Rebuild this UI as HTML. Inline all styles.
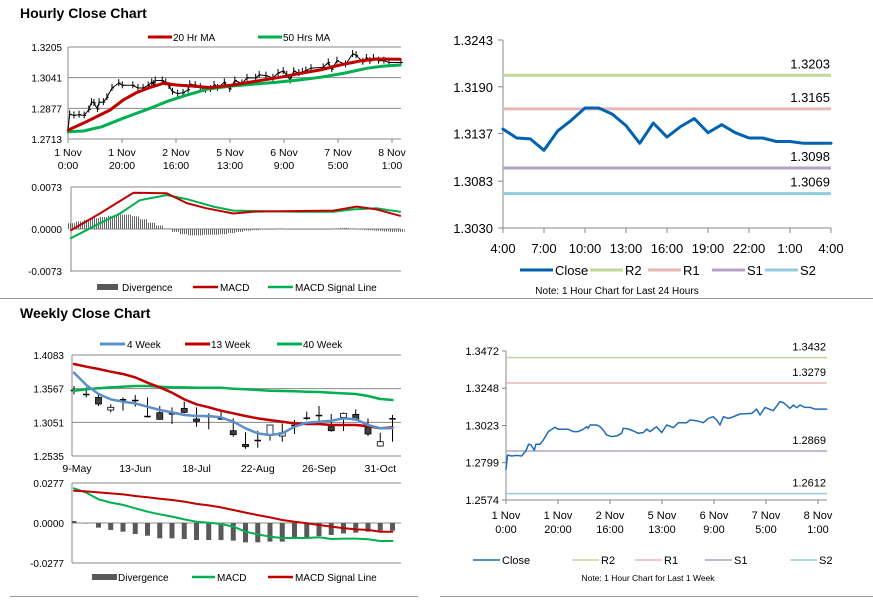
<!DOCTYPE html>
<html><head><meta charset="utf-8">
<style>
html,body{margin:0;padding:0;background:#fff;}
svg{display:block;font-family:"Liberation Sans",Arial,sans-serif;}
</style></head>
<body>
<svg id="root" width="873" height="601" viewBox="0 0 873 601" xmlns="http://www.w3.org/2000/svg">
<rect x="0" y="0" width="873" height="601" fill="#fff"/>
<text x="20" y="18" font-size="14" font-weight="bold" fill="#000">Hourly Close Chart</text>
<text x="20" y="318" font-size="14" font-weight="bold" fill="#000">Weekly Close Chart</text>
<line x1="0" y1="298.5" x2="873" y2="298.5" stroke="#999" stroke-width="1"/>
<line x1="10" y1="596.5" x2="418" y2="596.5" stroke="#999" stroke-width="1"/>
<line x1="440" y1="596.5" x2="873" y2="596.5" stroke="#999" stroke-width="1"/>
</svg>
<script>
// ---------- DATA ----------
// Hourly closes over last week (hours since 1 Nov 0:00)
const weekHours = [0,0.6,2.2,4.1,6.0,7.7,8.7,9.6,10.9,11.5,13.1,14.4,16.3,18.8,20.1,24.0,25.9,27.8,29.7,31.0,31.6,32.3,34.9,36.2,37.4,38.7,40.6,42.6,44.5,45.1,47.1,49.0,50.9,52.8,54.1,55.4,57.9,59.9,61.8,64.4,66.3,69.5,70.8,73.3,75.9,77.8,79.7,81.0,82.3,83.6,85.5,86.8,88.1,90.0,94.5,96.4,97.7,99.6,102.8,105.4,106.7,109.2,110.5,111.8,113.1,115.0,117.0,118.9,123.3];
const weekCloses = [1.2759,1.2845,1.2839,1.2843,1.2839,1.2871,1.2910,1.2906,1.2873,1.2910,1.2910,1.2936,1.2986,1.3012,1.3000,1.3000,1.2986,1.2986,1.3000,1.3016,1.3006,1.3026,1.3026,1.3016,1.2996,1.2966,1.2956,1.2960,1.2976,1.3006,1.3002,1.2990,1.2976,1.2980,1.3002,1.2986,1.3016,1.2980,1.3026,1.3010,1.3040,1.3040,1.3056,1.3052,1.3040,1.3066,1.3076,1.3056,1.3026,1.3076,1.3066,1.3072,1.3080,1.3092,1.3096,1.3122,1.3086,1.3132,1.3112,1.3167,1.3161,1.3126,1.3146,1.3130,1.3146,1.3132,1.3132,1.3122,1.3122];
const hourTickLabels1 = ["1 Nov","1 Nov","2 Nov","5 Nov","6 Nov","7 Nov","8 Nov"];
const hourTickLabels2 = ["0:00","20:00","16:00","13:00","9:00","5:00","1:00"];
const hourTickHours = [0,20,40,60,80,100,120];
// 20 Hr / 50 Hr moving averages
const ma20Hours = [0.1,6.9,15.6,20.5,25.4,30.4,35.3,40.2,46.4,52.6,61.2,68.6,78.5,85.9,93.3,100.7,108.1,114.3,123];
const ma20Values = [1.2761,1.2806,1.2868,1.2922,1.2961,1.2989,1.3011,1.3002,1.2996,1.2988,1.3002,1.3020,1.3043,1.3064,1.3082,1.3109,1.3130,1.3141,1.3139];
const ma50Hours = [0.1,5.7,12.6,20.5,30.4,36.5,44,51.4,60,68.6,77.3,85.9,93.3,102,110.6,116.8,123];
const ma50Values = [1.2752,1.2756,1.2779,1.2824,1.2877,1.2913,1.2948,1.2979,1.2996,1.3006,1.3016,1.3029,1.3043,1.3064,1.3091,1.3103,1.3109];
const hourlyPriceTicks = [1.2713,1.2877,1.3041,1.3205];
// Hourly MACD
const hMacdHours = [0,10.8,17,23.3,35.7,43.2,50.6,60.6,68,78,97.9,106.6,114,122.8];
const hMacdValues = [-0.0002,0.0027,0.0045,0.0063,0.0062,0.0045,0.0036,0.0027,0.0030,0.0031,0.0032,0.0039,0.0034,0.0023];
const hSignalHours = [0,10.8,18.3,25.7,35.7,43.2,53.1,60.6,73,85.5,97.9,105.4,114,122.8];
const hSignalValues = [-0.0016,0.0010,0.0027,0.0050,0.0059,0.0052,0.0039,0.0032,0.0031,0.0030,0.0030,0.0034,0.0036,0.0030];
const hDivHours = [0,3,6,9,12,15,18,21,24,27,30,33,36,39,42,45,48,51,54,57,60,63,66,69,72,75,78,81,84,87,90,93,96,99,102,105,108,111,114,117,120,123];
const hDivValues = [0.0010,0.0013,0.0016,0.0019,0.0021,0.0023,0.0025,0.0025,0.0022,0.0017,0.0011,0.0006,0.0001,-0.0005,-0.0009,-0.0011,-0.0011,-0.0010,-0.0010,-0.0009,-0.0007,-0.0005,-0.0003,-0.0002,-0.0001,-0.0001,0.0001,0.0000,-0.0001,0.0000,0.0000,-0.0001,0.0000,0.0001,0.0002,0.0001,0.0000,-0.0002,-0.0003,-0.0004,-0.0005,-0.0005];
const hMacdTicks = [-0.0073,0.0000,0.0073];
// 24h chart
const dayTickLabels = ["4:00","7:00","10:00","13:00","16:00","19:00","22:00","1:00","4:00"];
const dayCloses = [1.3142,1.3132,1.3131,1.3118,1.3140,1.3152,1.3166,1.3166,1.3159,1.3146,1.3126,1.3149,1.3133,1.3145,1.3154,1.3138,1.3147,1.3138,1.3132,1.3132,1.3128,1.3128,1.3126,1.3126,1.3126];
const dayTicks = [1.3030,1.3083,1.3137,1.3190,1.3243];
const dayLevelNames = ["R2","R1","S1","S2"];
const dayLevels = [1.3203,1.3165,1.3098,1.3069];
const weekTicks = [1.2574,1.2799,1.3023,1.3248,1.3472];
const weekLevels = [1.3432,1.3279,1.2869,1.2612];
const levelColors = ["#c3d69b","#e6b9b8","#b3a2c7","#93cddd"];
// Weekly candles
const wkOpen  = [1.3547,1.3485,1.3434,1.3240,1.3404,1.3393,1.3148,1.3199,1.3189,1.3265,1.3102,1.3148,1.3112,1.2923,1.2713,1.2780,1.2856,1.2841,1.3010,1.3122,1.3163,1.2984,1.3128,1.3173,1.2974,1.2688,1.3112];
const wkClose = [1.3547,1.3485,1.3332,1.3281,1.3404,1.3393,1.3148,1.3097,1.3189,1.3204,1.3066,1.3148,1.3112,1.2862,1.2678,1.2780,1.3010,1.2892,1.3010,1.3122,1.3163,1.2923,1.3189,1.3086,1.2872,1.2754,1.3112];
const wkHigh  = [1.3608,1.3588,1.3470,1.3327,1.3434,1.3470,1.3434,1.3301,1.3281,1.3368,1.3281,1.3189,1.3214,1.3112,1.2897,1.2923,1.3010,1.3035,1.3086,1.3214,1.3301,1.3178,1.3199,1.3250,1.3112,1.2892,1.3163];
const wkLow   = [1.3480,1.3434,1.3301,1.3204,1.3230,1.3291,1.3128,1.3097,1.3025,1.3189,1.2984,1.2943,1.3086,1.2831,1.2647,1.2662,1.2770,1.2754,1.2872,1.3086,1.3061,1.2908,1.2918,1.3076,1.2841,1.2678,1.2754];
const ma4w  = [1.3812,1.3623,1.3485,1.3403,1.3367,1.3342,1.3291,1.3240,1.3204,1.3163,1.3148,1.3148,1.3127,1.3061,1.2959,1.2882,1.2856,1.2882,1.2984,1.3046,1.3061,1.3076,1.3112,1.3097,1.3010,1.2959,1.2959];
const ma13w = [1.3945,1.3904,1.3868,1.3827,1.3792,1.3740,1.3659,1.3587,1.3505,1.3403,1.3327,1.3281,1.3230,1.3189,1.3148,1.3112,1.3086,1.3061,1.3035,1.3025,1.3025,1.3010,1.3010,1.3010,1.2994,1.2959,1.2974];
const ma40w = [1.3536,1.3557,1.3572,1.3587,1.3597,1.3608,1.3608,1.3597,1.3587,1.3587,1.3582,1.3582,1.3582,1.3567,1.3557,1.3546,1.3536,1.3531,1.3526,1.3521,1.3516,1.3505,1.3495,1.3485,1.3454,1.3408,1.3393];
const wkTicks = [1.2535,1.3051,1.3567,1.4083];
const wkTickLabels = ["9-May","13-Jun","18-Jul","22-Aug","26-Sep","31-Oct"];
const wkTickWeeks = [0,5,10,15,20,25];
const wMacd   = [0.0240,0.0210,0.0164,0.0141,0.0125,0.0102,0.0078,0.0060,0.0044,0.0025,0.0009,0.0002,-0.0007,-0.0025,-0.0060,-0.0079,-0.0095,-0.0104,-0.0104,-0.0104,-0.0099,-0.0111,-0.0108,-0.0108,-0.0113,-0.0125,-0.0125];
const wSignal = [0.0224,0.0219,0.0212,0.0205,0.0198,0.0187,0.0178,0.0168,0.0159,0.0148,0.0132,0.0122,0.0108,0.0090,0.0072,0.0055,0.0039,0.0021,0.0009,-0.0002,-0.0014,-0.0025,-0.0035,-0.0044,-0.0048,-0.0060,-0.0060];
const wDiv    = [0.0014,-0.0003,-0.0032,-0.0048,-0.0060,-0.0076,-0.0088,-0.0106,-0.0106,-0.0111,-0.0118,-0.0118,-0.0118,-0.0122,-0.0134,-0.0134,-0.0129,-0.0129,-0.0108,-0.0099,-0.0090,-0.0083,-0.0072,-0.0067,-0.0060,-0.0053,-0.0053];
const wMacdTicks = [-0.0277,0.0000,0.0277];

// ---------- HELPERS ----------
const NS="http://www.w3.org/2000/svg";
const root=document.getElementById('root');
function mk(tag,attrs,parent){const e=document.createElementNS(NS,tag);for(const k in attrs)e.setAttribute(k,attrs[k]);(parent||root).appendChild(e);return e;}
function grp(name){const g=document.createElementNS(NS,'g');


root.appendChild(g);return g;}
function txt(g,x,y,s,size,anchor,name,color){const t=mk('text',{x:x,y:y,'font-size':size,'text-anchor':anchor||'start',fill:color||'#000'},g);t.textContent=s;


return t;}
function poly(g,xs,ys,color,w,name){let d='';for(let i=0;i<xs.length;i++)d+=(i?'L':'M')+xs[i].toFixed(1)+' '+ys[i].toFixed(1);
const p=mk('path',{d:d,fill:'none',stroke:color,'stroke-width':w,'stroke-linejoin':'round','stroke-linecap':'round'},g);


return p;}
function ln(g,x1,y1,x2,y2,c,w){return mk('line',{x1:x1,y1:y1,x2:x2,y2:y2,stroke:c,'stroke-width':w},g);}
function fmt(v){return v.toFixed(4);}

// ---------- PANEL 1: Hourly price ----------
(function(){
const g=grp('hourly-price-chart');
const x=h=>68+h*2.7, y=v=>47+(1.3205-v)*1870;
hourlyPriceTicks.forEach(t=>{ln(g,68,y(t),401,y(t),'#888',1);txt(g,62,y(t)+4,fmt(t),10,'end','y-tick-label');});
ln(g,68,47,68,139,'#888',1);
hourTickHours.forEach((h,i)=>{ln(g,x(h),139,x(h),143,'#888',1);txt(g,x(h),156,hourTickLabels1[i],10.5,'middle','x-tick-label');txt(g,x(h),169,hourTickLabels2[i],10.5,'middle','x-tick-label');});
// OHLC bars
for(let i=0;i<weekHours.length;i++){const xx=x(weekHours[i]),yy=y(weekCloses[i]);
const b=ln(g,xx,yy-4,xx,yy+3,'#000',1);


ln(g,xx,yy,xx+2,yy,'#000',1);}
poly(g,weekHours.map(x),weekCloses.map(y),'#000',1,'price-line');
poly(g,ma50Hours.map(x),ma50Values.map(y),'#00b050',3,'ma50-line');
poly(g,ma20Hours.map(x),ma20Values.map(y),'#c00000',3,'ma20-line');
ln(g,148,37,172,37,'#c00000',3);txt(g,173,41,'20 Hr MA',10,'start','legend-ma20');
ln(g,258,37,282,37,'#00b050',3);txt(g,283,41,'50 Hrs MA',10,'start','legend-ma50');
})();

// ---------- PANEL 1b: Hourly MACD ----------
(function(){
const g=grp('hourly-macd-chart');
const x=h=>71+h*2.68, y=v=>229-v*5753;
hMacdTicks.forEach(t=>{ln(g,71,y(t),401,y(t),'#888',1);txt(g,62,y(t)+4,fmt(t),10,'end','y-tick-label');});
ln(g,71,187,71,272,'#888',1);
hDivHours.forEach((h,i)=>{const v=hDivValues[i];const y0=y(0),y1=y(v);
const r=mk('rect',{x:x(h)-4,y:Math.min(y0,y1),width:8,height:Math.max(0.6,Math.abs(y1-y0)),fill:'url(#hatch)'},g);

});
poly(g,hSignalHours.map(x),hSignalValues.map(y),'#00b050',2,'macd-signal-line');
poly(g,hMacdHours.map(x),hMacdValues.map(y),'#c00000',2,'macd-line');
mk('rect',{x:97,y:284,width:21,height:6,fill:'#595959'},g);txt(g,122,291,'Divergence',10,'start','legend-divergence');
ln(g,193,287,218,287,'#c00000',2.5);txt(g,220,291,'MACD',10,'start','legend-macd');
ln(g,268,287,293,287,'#00b050',2.5);txt(g,295,291,'MACD Signal Line',10,'start','legend-signal');
})();

// ---------- PANEL 2: 24h ----------
(function(){
const g=grp('daily-levels-chart');
const x=i=>503+i*(328/24), y=v=>40+(1.3243-v)*8826;
dayTicks.forEach(t=>{ln(g,498,y(t),503,y(t),'#888',1);txt(g,493,y(t)+5,fmt(t),13,'end','y-tick-label');});
ln(g,503,40,503,228,'#888',1);ln(g,503,228,831,228,'#888',1);
dayTickLabels.forEach((s,i)=>{const xx=x(i*3);ln(g,xx,228,xx,233,'#888',1);txt(g,xx,253,s,13,'middle','x-tick-label');});
dayLevels.forEach((v,i)=>{const l=ln(g,503,y(v),831,y(v),levelColors[i],3);


txt(g,830,y(v)-7,fmt(v),13,'end','level-label');});
poly(g,dayCloses.map((v,i)=>x(i)),dayCloses.map(y),'#0063b1',3,'close-line');
// relabel S1 under close line placement handled above
const lx=[520,590,648,712,765],cols=['#0063b1'].concat(levelColors),names=['Close','R2','R1','S1','S2'];
names.forEach((n,i)=>{ln(g,lx[i],270,lx[i]+33,270,cols[i],3);txt(g,lx[i]+35,275,n,13,'start','legend-'+n.toLowerCase());});
txt(g,617,294,'Note: 1 Hour Chart for Last 24 Hours',10,'middle','chart-note');
})();

// ---------- PANEL 3: Weekly candles ----------
(function(){
const g=grp('weekly-price-chart');
const x=i=>74+i*12.25, y=v=>355+(1.4083-v)*652.5;
wkTicks.forEach(t=>{ln(g,72,y(t),401,y(t),'#888',1);txt(g,64,y(t)+4,fmt(t),10,'end','y-tick-label');});
ln(g,72,355,72,456,'#888',1);
wkTickWeeks.forEach((w,i)=>txt(g,x(w)+(i==0?3:0),472,wkTickLabels[i],10.5,'middle','x-tick-label'));
for(let i=0;i<wkOpen.length;i++){const xx=x(i);
ln(g,xx,y(wkHigh[i]),xx,y(wkLow[i]),'#000',1);
const top=Math.min(y(wkOpen[i]),y(wkClose[i])),h=Math.abs(y(wkOpen[i])-y(wkClose[i]));
const c=mk('rect',{x:xx-3,y:top,width:6,height:Math.max(h,1),fill:wkClose[i]<wkOpen[i]?'#404040':(h<1?'#000':'#fff'),stroke:'#000','stroke-width':h<1?0.5:0.8},g);

}
const xs=ma4w.map((v,i)=>x(i));
poly(g,xs,ma40w.map(y),'#00b050',2.5,'ma40-line');
poly(g,xs,ma13w.map(y),'#c00000',2.5,'ma13-line');
poly(g,xs,ma4w.map(y),'#5b8fc9',2.5,'ma4-line');
ln(g,100,344,125,344,'#5b8fc9',3);txt(g,127,348,'4 Week',10,'start','legend-4week');
ln(g,185,344,210,344,'#c00000',3);txt(g,211,348,'13 Week',10,'start','legend-13week');
ln(g,277,344,302,344,'#00b050',3);txt(g,303,348,'40 Week',10,'start','legend-40week');
})();

// ---------- PANEL 3b: Weekly MACD ----------
(function(){
const g=grp('weekly-macd-chart');
const x=i=>74+i*12.25, y=v=>523-v*1444;
wMacdTicks.forEach(t=>{ln(g,72,y(t),401,y(t),t===0?'#888':'#888',1);txt(g,64,y(t)+4,fmt(t),10,'end','y-tick-label');});
ln(g,72,483,72,563,'#888',1);
wDiv.forEach((v,i)=>{const y0=y(0),y1=y(v);
const r=mk('rect',{x:x(i)-2.5,y:Math.min(y0,y1),width:5,height:Math.abs(y1-y0),fill:'#595959'},g);

});
const xs=wMacd.map((v,i)=>x(i));
poly(g,xs,wMacd.map(y),'#00b050',2,'macd-line');
poly(g,xs,wSignal.map(y),'#c00000',2,'macd-signal-line');
mk('rect',{x:92,y:574,width:25,height:6,fill:'#595959'},g);txt(g,118,581,'Divergence',10,'start','legend-divergence');
ln(g,192,577,215,577,'#00b050',2.5);txt(g,217,581,'MACD',10,'start','legend-macd');
ln(g,268,577,293,577,'#c00000',2.5);txt(g,295,581,'MACD Signal Line',10,'start','legend-signal');
})();

// ---------- PANEL 4: Weekly hourly closes ----------
(function(){
const g=grp('weekly-levels-chart');
const x=h=>506+h*2.6, y=v=>351+(1.3472-v)*1659;
weekTicks.forEach(t=>{ln(g,502,y(t),506,y(t),'#888',1);txt(g,499,y(t)+4,fmt(t),11,'end','y-tick-label');});
ln(g,506,351,506,500,'#888',1);ln(g,506,500,827,500,'#888',1);
hourTickHours.forEach((h,i)=>{ln(g,x(h),500,x(h),504,'#888',1);txt(g,x(h),519,hourTickLabels1[i],11,'middle','x-tick-label');txt(g,x(h),533,hourTickLabels2[i],11,'middle','x-tick-label');});
weekLevels.forEach((v,i)=>{const l=ln(g,506,y(v),827,y(v),levelColors[i],1.5);


txt(g,826,y(v)-7,fmt(v),11,'end','level-label');});
poly(g,weekHours.map(x),weekCloses.map(y),'#1f6cb5',1.5,'close-line');
const lx=[473,572,635,705,790],cols=['#1f6cb5'].concat(levelColors),names=['Close','R2','R1','S1','S2'];
names.forEach((n,i)=>{ln(g,lx[i],560,lx[i]+27,560,cols[i],1.5);txt(g,lx[i]+29,564,n,11,'start','legend-'+n.toLowerCase());});
txt(g,648,581,'Note: 1 Hour Chart for Last 1 Week',8.5,'middle','chart-note');
})();

// hatch pattern for hourly divergence
const defs=mk('defs',{});
const pat=mk('pattern',{id:'hatch',width:2,height:4,patternUnits:'userSpaceOnUse'},defs);
mk('rect',{x:0,y:0,width:1,height:4,fill:'#666'},pat);
root.insertBefore(defs,root.firstChild);
</script>
</body></html>
